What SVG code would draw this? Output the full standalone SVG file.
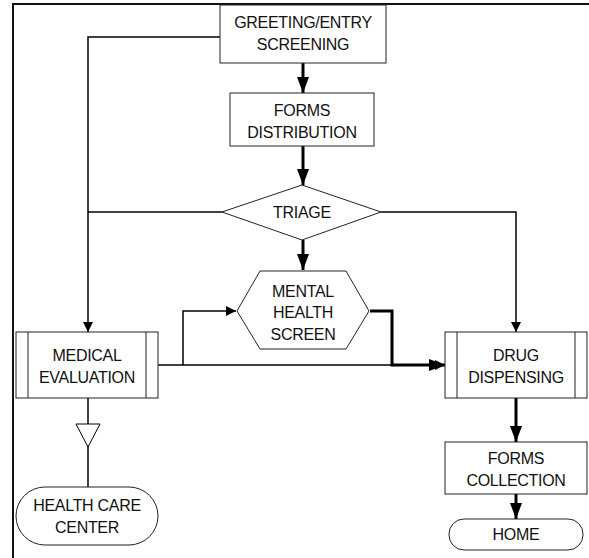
<svg xmlns="http://www.w3.org/2000/svg" width="589" height="558" viewBox="0 0 589 558">
<defs>
<style>
.box{fill:#fff;stroke:#222;stroke-width:1}
.t{font-family:"Liberation Sans",Arial,sans-serif;font-size:16px;fill:#111;text-anchor:middle;letter-spacing:-0.3px}
.thin{fill:none;stroke:#000;stroke-width:1.5}
.thick{fill:none;stroke:#000;stroke-width:3}
</style>
<marker id="ah" viewBox="0 0 10 10" refX="10" refY="5" markerWidth="10" markerHeight="10" markerUnits="userSpaceOnUse" orient="auto"><path d="M0,0 L10,5 L0,10 z" fill="#000"/></marker>
<marker id="ahb" viewBox="0 0 16 12" refX="16" refY="6" markerWidth="16" markerHeight="12" markerUnits="userSpaceOnUse" orient="auto"><path d="M0,0 L16,6 L0,12 z" fill="#000"/></marker>
</defs>
<rect width="589" height="558" fill="#fff"/>
<path d="M13,558 V4 H589" fill="none" stroke="#111" stroke-width="2"/>
<g id="connectors">
<path class="thin" d="M220,37 H88 V332" marker-end="url(#ah)"/>
<path class="thin" d="M222,212 H88"/>
<path class="thin" d="M381,212 H516 V332" marker-end="url(#ah)"/>
<path class="thick" d="M303,63 V93" marker-end="url(#ahb)"/>
<path class="thick" d="M303,146 V185" marker-end="url(#ahb)"/>
<path class="thick" d="M303,240 V270" marker-end="url(#ahb)"/>
<path class="thin" d="M158,365 H445" marker-end="url(#ah)"/>
<path class="thin" d="M183,365 V311 H236" marker-end="url(#ah)"/>
<path class="thick" d="M370,311 H392 V365 H445" marker-end="url(#ahb)"/>
<path class="thin" d="M88,398 V487"/>
<path d="M76,424 H100 L88,447 z" fill="#fff" stroke="#000" stroke-width="1"/>
<path class="thick" d="M516,398 V442" marker-end="url(#ahb)"/>
<path class="thick" d="M516,494 V519" marker-end="url(#ahb)"/>
</g>
<g id="greeting">
<rect class="box" x="220" y="5" width="166" height="58"/>
<text class="t" x="303" y="28">GREETING/ENTRY</text>
<text class="t" x="303" y="50">SCREENING</text>
</g>
<g id="forms-distribution">
<rect class="box" x="230" y="93" width="144" height="53"/>
<text class="t" x="302" y="116">FORMS</text>
<text class="t" x="302" y="138">DISTRIBUTION</text>
</g>
<g id="triage">
<path class="box" d="M222,212 L302,185 L381,212 L302,240 z"/>
<text class="t" x="302" y="218">TRIAGE</text>
</g>
<g id="mental-health">
<path class="box" d="M237,311 L260,271 L346,271 L369,311 L346,349 L260,349 z"/>
<text class="t" x="303" y="297">MENTAL</text>
<text class="t" x="303" y="318">HEALTH</text>
<text class="t" x="303" y="340">SCREEN</text>
</g>
<g id="medical-evaluation">
<rect class="box" x="16" y="332" width="142" height="66"/>
<path d="M28,332 V398 M146,332 V398" stroke="#222" stroke-width="1"/>
<text class="t" x="87" y="361">MEDICAL</text>
<text class="t" x="87" y="383">EVALUATION</text>
</g>
<g id="drug-dispensing">
<rect class="box" x="445" y="332" width="142" height="66"/>
<path d="M457,332 V398 M575,332 V398" stroke="#222" stroke-width="1"/>
<text class="t" x="516" y="361">DRUG</text>
<text class="t" x="516" y="383">DISPENSING</text>
</g>
<g id="health-care-center">
<rect class="box" x="16" y="487" width="142" height="58" rx="29" ry="29"/>
<text class="t" x="87" y="511">HEALTH CARE</text>
<text class="t" x="87" y="533">CENTER</text>
</g>
<g id="forms-collection">
<rect class="box" x="445" y="442" width="142" height="52"/>
<text class="t" x="516" y="464">FORMS</text>
<text class="t" x="516" y="486">COLLECTION</text>
</g>
<g id="home">
<rect class="box" x="449" y="519" width="134" height="31" rx="15" ry="15"/>
<text class="t" x="516" y="540">HOME</text>
</g>
</svg>
